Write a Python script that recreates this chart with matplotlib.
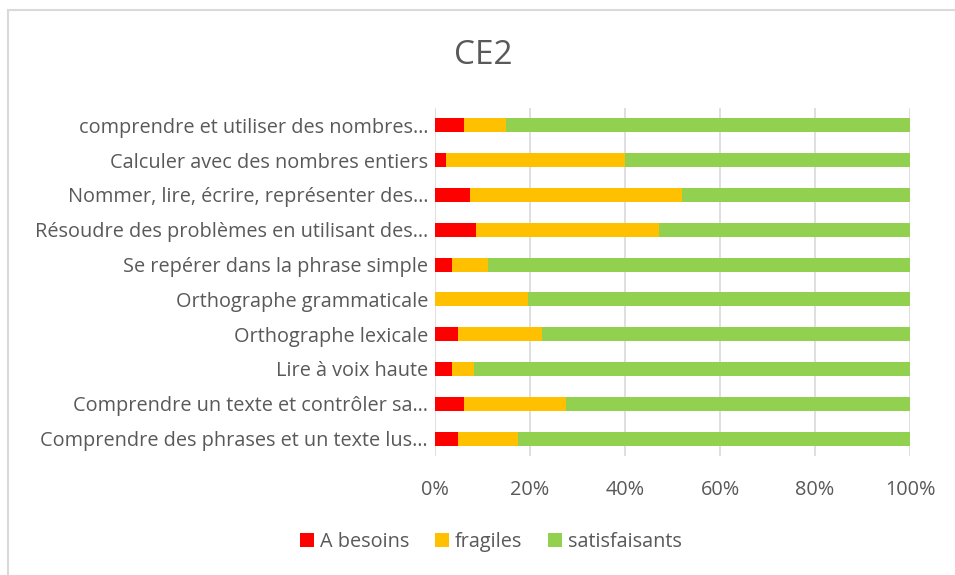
import matplotlib
matplotlib.use("Agg")
from matplotlib import pyplot as plt
from matplotlib.patches import Rectangle
from matplotlib.ticker import PercentFormatter

categories = [
    "comprendre et utiliser des nombres…",
    "Calculer avec des nombres entiers",
    "Nommer, lire, écrire, représenter des…",
    "Résoudre des problèmes en utilisant des…",
    "Se repérer dans la phrase simple",
    "Orthographe grammaticale",
    "Orthographe lexicale",
    "Lire à voix haute",
    "Comprendre un texte et contrôler sa…",
    "Comprendre des phrases et un texte lus…",
]
besoins = [6.1, 2.3, 7.4, 8.6, 3.6, 0.0, 4.8, 3.6, 6.1, 4.8]
fragiles = [8.8, 37.6, 44.7, 38.5, 7.6, 19.6, 17.7, 4.6, 21.5, 12.7]
satisfaisants = [85.1, 60.1, 47.9, 52.9, 88.8, 80.4, 77.5, 91.8, 72.4, 82.5]

plt.rcParams['font.family'] = ['Open Sans', 'DejaVu Sans']
grey = '#595959'
fs = 14.3

fig = plt.figure(figsize=(9.55, 5.75), dpi=100)
fig.set_facecolor('white')
# cadre du graphique (comme dans Excel)
fig.patches.append(Rectangle((8 / 955, -0.1), 1.2, 1.1 - 10 / 575,
                             transform=fig.transFigure, fill=False,
                             edgecolor='#d9d9d9', linewidth=1.5))

ax = fig.add_axes([435 / 955, 1 - 456 / 575, 475 / 955, 348 / 575])

y = list(range(len(categories)))[::-1]
left2 = [a for a in besoins]
left3 = [a + b for a, b in zip(besoins, fragiles)]
ax.barh(y, besoins, height=0.4, color='#ff0000', label='A besoins', zorder=3)
ax.barh(y, fragiles, left=left2, height=0.4, color='#ffc000', label='fragiles', zorder=3)
ax.barh(y, satisfaisants, left=left3, height=0.4, color='#92d050', label='satisfaisants', zorder=3)

ax.set_xlim(0, 100)
ax.set_ylim(-0.5, len(categories) - 0.5)
ax.set_xticks([0, 20, 40, 60, 80, 100])
ax.xaxis.set_major_formatter(PercentFormatter(decimals=0))
ax.set_yticks(y)
ax.set_yticklabels(categories)
ax.tick_params(axis='both', length=0, colors=grey, labelsize=fs)
ax.tick_params(axis='x', pad=17)
ax.tick_params(axis='y', pad=5)
ax.grid(axis='x', color='#d9d9d9', linewidth=1.2, zorder=0)
for s in ax.spines.values():
    s.set_visible(False)

fig.text(483 / 955, 1 - 55 / 575, 'CE2', ha='center', va='center',
         fontsize=24, color=grey)

fig.legend(loc='center', bbox_to_anchor=(491 / 955, 1 - 542 / 575), ncol=3,
           frameon=False, fontsize=fs, labelcolor=grey, handlelength=0.7,
           handleheight=0.7, handletextpad=0.3, columnspacing=1.3)

plt.savefig('out.png', dpi=100)
